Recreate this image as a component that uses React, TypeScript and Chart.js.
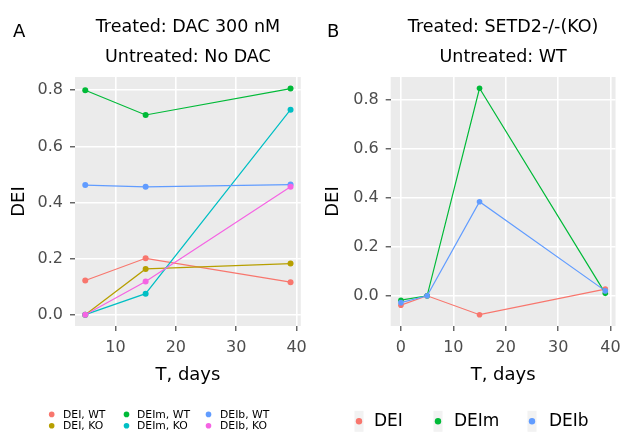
import React, { useEffect, useRef } from "react";
import { Chart, registerables } from "chart.js";
Chart.register(...registerables);

const FONT = "DejaVu Sans";

// Panel A data
const daysA = [5, 15, 39];
const deiWT = [0.122, 0.201, 0.116];
const deiKO = [0, 0.163, 0.182];
const deimWT = [0.8, 0.712, 0.806];
const deimKO = [0, 0.075, 0.731];
const deibWT = [0.462, 0.456, 0.464];
const deibKO = [0, 0.118, 0.456];
const labelsA = ["DEI, WT", "DEI, KO", "DEIm, WT", "DEIm, KO", "DEIb, WT", "DEIb, KO"];
const colorsA = ["#F8766D", "#B79F00", "#00BA38", "#00BFC4", "#619CFF", "#F564E3"];
const titleA = ["Treated: DAC 300 nM", "Untreated: No DAC"];

// Panel B data
const daysB = [0, 5, 15, 39];
const deiB = [-0.038, 0, -0.077, 0.027];
const deimB = [-0.018, 0, 0.845, 0.01];
const deibB = [-0.028, 0, 0.383, 0.02];
const labelsB = ["DEI", "DEIm", "DEIb"];
const colorsB = ["#F8766D", "#00BA38", "#619CFF"];
const titleB = ["Treated: SETD2-/-(KO)", "Untreated: WT"];

const xTicks = { A: [10, 20, 30, 40], B: [0, 10, 20, 30, 40] };
const yTicks = [0, 0.2, 0.4, 0.6, 0.8];

type LegendLayout = {
  rows: number;
  dotX: number[];
  textX: number[];
  rowY: number[];
  fontSize: number;
  dotR: number;
  keyBg: boolean;
};

type PanelCfg = {
  letter: string;
  title: string[];
  xs: number[];
  series: number[][];
  labels: string[];
  colors: string[];
  xMin: number;
  xMax: number;
  yMin: number;
  yMax: number;
  xTickVals: number[];
  yWidth: number;
  padRight: number;
  pointR: number;
  legend: LegendLayout;
};

function makePlugins(cfg: PanelCfg) {
  return [
    {
      id: "panelBg",
      beforeDraw(chart: any) {
        const { ctx, chartArea: a } = chart;
        ctx.save();
        ctx.fillStyle = "#EBEBEB";
        ctx.fillRect(a.left, a.top, a.right - a.left, a.bottom - a.top);
        ctx.restore();
      },
    },
    {
      id: "extras",
      afterDraw(chart: any) {
        const ctx = chart.ctx;
        ctx.save();
        ctx.fillStyle = "#000";
        ctx.font = `18px "${FONT}"`;
        ctx.textBaseline = "alphabetic";
        ctx.textAlign = "left";
        ctx.fillText(cfg.letter, 13, 37.3);
        const L = cfg.legend;
        ctx.font = `${L.fontSize}px "${FONT}"`;
        ctx.textBaseline = "middle";
        chart.data.datasets.forEach((ds: any, i: number) => {
          const col = Math.floor(i / L.rows);
          const row = i % L.rows;
          const y = L.rowY[row];
          if (L.keyBg) {
            ctx.fillStyle = "#F2F2F2";
            ctx.fillRect(L.dotX[col] - 4.5, y - 10.5, 9, 21);
          }
          ctx.fillStyle = ds.borderColor;
          ctx.beginPath();
          ctx.arc(L.dotX[col], y, L.dotR, 0, Math.PI * 2);
          ctx.fill();
          ctx.fillStyle = "#000";
          ctx.fillText(ds.label, L.textX[col], y + 0.6);
        });
        ctx.restore();
      },
    },
  ];
}

function Panel({ cfg }: { cfg: PanelCfg }) {
  const ref = useRef<HTMLCanvasElement>(null);
  useEffect(() => {
    const n = cfg.series.length;
    const chart = new Chart(ref.current!, {
      type: "line",
      data: {
        datasets: cfg.series.map((s, i) => ({
          label: cfg.labels[i],
          data: s.map((v, j) => ({ x: cfg.xs[j], y: v })),
          borderColor: cfg.colors[i],
          backgroundColor: cfg.colors[i],
          pointBackgroundColor: cfg.colors[i],
          pointBorderWidth: 0,
          pointRadius: cfg.pointR,
          borderWidth: 1.2,
          tension: 0,
          order: n - i,
        })),
      },
      options: {
        animation: false,
        responsive: false,
        devicePixelRatio: 1,
        layout: { padding: { left: 0, right: cfg.padRight, top: 0, bottom: 45.5 } },
        plugins: {
          legend: { display: false },
          tooltip: { enabled: false },
          title: {
            display: true,
            text: cfg.title,
            fullSize: false,
            color: "#000",
            font: { family: FONT, size: 17.5, weight: "normal", lineHeight: 30 / 17.5 },
            padding: { top: 12.4, bottom: 4.6 },
          },
        },
        scales: {
          x: {
            type: "linear",
            min: cfg.xMin,
            max: cfg.xMax,
            afterBuildTicks: (s: any) => {
              s.ticks = cfg.xTickVals.map((v) => ({ value: v }));
            },
            afterFit: (s: any) => {
              s.height = 60.5;
            },
            ticks: {
              color: "#4D4D4D",
              padding: 7,
              font: { family: FONT, size: 16 },
              callback: (v: any) => String(v),
            },
            grid: { color: "#FFFFFF", lineWidth: 1.6, tickColor: "#333333", tickWidth: 1.1, tickLength: 5 },
            border: { display: false },
            title: {
              display: true,
              text: "T, days",
              color: "#000",
              font: { family: FONT, size: 18, lineHeight: 1.2 },
              padding: { top: 0, bottom: 0 },
            },
          },
          y: {
            type: "linear",
            min: cfg.yMin,
            max: cfg.yMax,
            afterBuildTicks: (s: any) => {
              s.ticks = yTicks.map((v) => ({ value: v }));
            },
            afterFit: (s: any) => {
              s.width = cfg.yWidth;
            },
            ticks: {
              color: "#4D4D4D",
              padding: 7,
              font: { family: FONT, size: 16 },
              callback: (v: any) => Number(v).toFixed(1),
            },
            grid: { color: "#FFFFFF", lineWidth: 1.6, tickColor: "#333333", tickWidth: 1.1, tickLength: 5 },
            border: { display: false },
            title: {
              display: true,
              text: "DEI",
              color: "#000",
              font: { family: FONT, size: 18, lineHeight: 1.2 },
              padding: { top: 9, bottom: 0 },
            },
          },
        },
      } as any,
      plugins: makePlugins(cfg) as any,
    });
    return () => chart.destroy();
  }, [cfg]);
  return <canvas ref={ref} width={314} height={432} style={{ display: "block", width: 314, height: 432 }} />;
}

const cfgA: PanelCfg = {
  letter: "A",
  title: titleA,
  xs: daysA,
  series: [deiWT, deiKO, deimWT, deimKO, deibWT, deibKO],
  labels: labelsA,
  colors: colorsA,
  xMin: 3.3,
  xMax: 40.7,
  yMin: -0.0404,
  yMax: 0.8474,
  xTickVals: xTicks.A,
  yWidth: 75,
  padRight: 5.5,
  pointR: 3,
  legend: {
    rows: 2,
    dotX: [51.7, 126.5, 208.5],
    textX: [63, 137, 220],
    rowY: [414.4, 425.8],
    fontSize: 10.8,
    dotR: 2.8,
    keyBg: false,
  },
};

const cfgB: PanelCfg = {
  letter: "B",
  title: titleB,
  xs: daysB,
  series: [deiB, deimB, deibB],
  labels: labelsB,
  colors: colorsB,
  xMin: -1.95,
  xMax: 40.95,
  yMin: -0.123,
  yMax: 0.891,
  xTickVals: xTicks.B,
  yWidth: 76.7,
  padRight: 3.9,
  pointR: 2.8,
  legend: {
    rows: 1,
    dotX: [45, 124, 218],
    textX: [60, 140, 235],
    rowY: [421.3],
    fontSize: 17,
    dotR: 3.2,
    keyBg: true,
  },
};

export default function App() {
  return (
    <div style={{ position: "absolute", left: 0, top: 0, width: 628, height: 432, display: "flex", background: "#fff" }}>
      <Panel cfg={cfgA} />
      <Panel cfg={cfgB} />
    </div>
  );
}
